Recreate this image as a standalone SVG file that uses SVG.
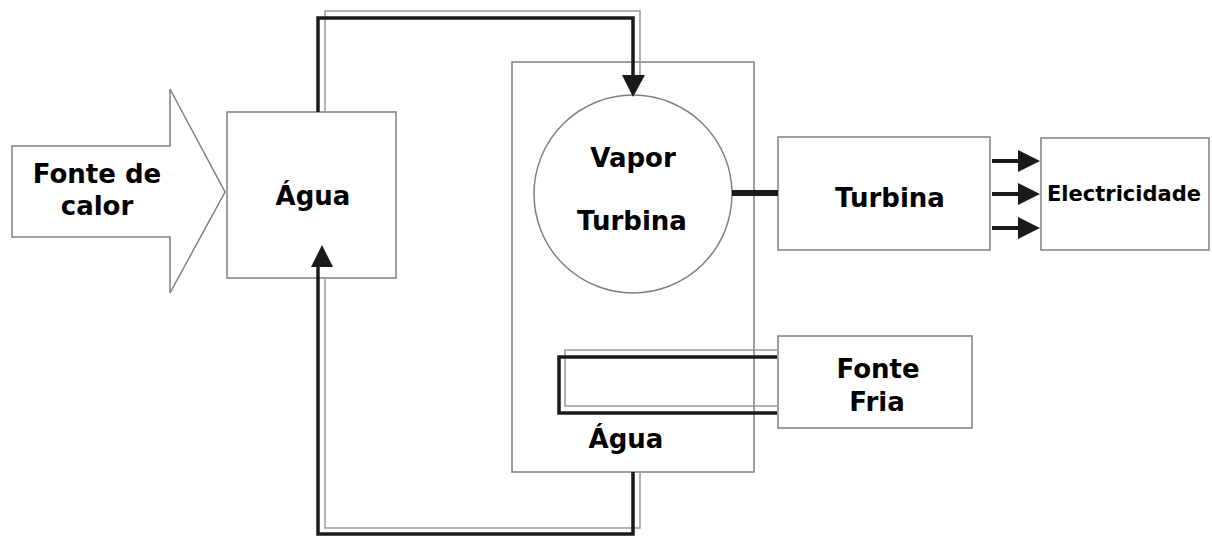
<svg xmlns="http://www.w3.org/2000/svg" width="1212" height="537" viewBox="0 0 1212 537">
  <style>
    .box { fill: #fff; stroke: #808080; stroke-width: 1.5; }
    .pipe { fill: none; stroke: #1a1a1a; stroke-width: 3.5; }
    .pipe2 { fill: none; stroke: #999; stroke-width: 1.5; }
    .lbl { font-family: "DejaVu Sans", Verdana, sans-serif; font-weight: bold; font-size: 26px; fill: #000; text-anchor: middle; }
    .small { font-size: 21px; }
    .head { fill: #1a1a1a; }
  </style>
  <rect width="1212" height="537" fill="#fff"/>

  <!-- heat source arrow -->
  <g id="fonte-calor">
    <polygon class="box" points="12,146 170,146 170,89 225,192 170,293 170,237 12,237"/>
    <text class="lbl" x="97" y="183">Fonte de</text>
    <text class="lbl" x="97" y="215">calor</text>
  </g>

  <!-- water box -->
  <g id="agua">
    <rect class="box" x="227" y="112" width="169" height="166"/>
    <text class="lbl" x="313" y="205">Água</text>
  </g>

  <!-- condenser housing -->
  <g id="caixa">
    <rect class="box" x="512" y="62" width="242" height="410"/>
    <text class="lbl" x="626" y="448">Água</text>
  </g>

  <!-- steam turbine drum -->
  <g id="vapor-turbina">
    <circle cx="633" cy="194" r="99" fill="#fff" stroke="#808080" stroke-width="1.5"/>
    <text class="lbl" x="633" y="167">Vapor</text>
    <text class="lbl" x="632" y="230">Turbina</text>
  </g>

  <!-- turbine -->
  <g id="turbina">
    <rect class="box" x="778" y="137" width="212" height="113"/>
    <text class="lbl" x="890" y="207">Turbina</text>
  </g>

  <!-- electricity -->
  <g id="electricidade">
    <rect class="box" x="1041" y="138" width="168" height="112"/>
    <text class="lbl small" x="1124" y="201">Electricidade</text>
  </g>

  <!-- cold source -->
  <g id="fonte-fria">
    <rect class="box" x="778" y="336" width="194" height="92"/>
    <text class="lbl" x="878" y="378">Fonte</text>
    <text class="lbl" x="877" y="411">Fria</text>
  </g>

  <g id="connectors">
    <!-- upper loop: water to steam -->
    <path class="pipe2" d="M325,112 V11 H640 V75"/>
    <path class="pipe" d="M318,112 V18 H633 V78"/>
    <polygon class="head" points="622,75 645,75 633,97"/>

    <!-- lower loop: condensate back to water -->
    <path class="pipe2" d="M325,278 V528 H640 V472"/>
    <path class="pipe" d="M318,266 V534 H633 V472"/>
    <polygon class="head" points="311,267 333,267 322,245"/>

    <!-- shaft -->
    <line x1="732" y1="193" x2="778" y2="193" stroke="#1a1a1a" stroke-width="6"/>

    <!-- cooling coil -->
    <path class="pipe2" d="M777,350 H565 V406 H777"/>
    <path class="pipe" d="M777,357 H559 V413 H777"/>

    <!-- power output arrows -->
    <g>
      <line x1="992" y1="161" x2="1020" y2="161" stroke="#1a1a1a" stroke-width="4"/>
      <polygon class="head" points="1018,150 1040,161 1018,172"/>
      <line x1="992" y1="194" x2="1020" y2="194" stroke="#1a1a1a" stroke-width="4"/>
      <polygon class="head" points="1018,183 1040,194 1018,205"/>
      <line x1="992" y1="228" x2="1020" y2="228" stroke="#1a1a1a" stroke-width="4"/>
      <polygon class="head" points="1018,217 1040,228 1018,239"/>
    </g>
  </g>
</svg>
